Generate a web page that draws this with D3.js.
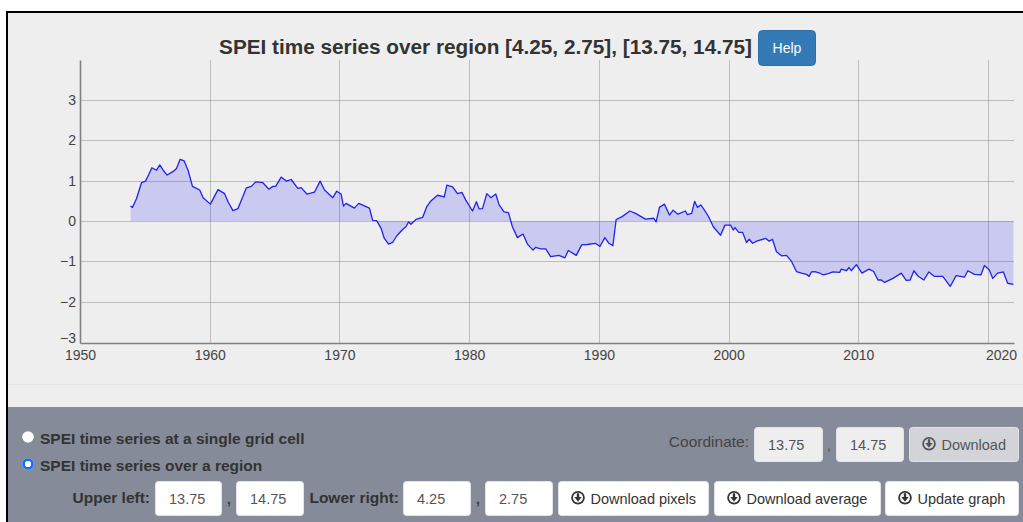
<!DOCTYPE html>
<html><head><meta charset="utf-8">
<script src="https://cdn.jsdelivr.net/npm/d3@7/dist/d3.min.js"></script>
<style>
html,body{margin:0;padding:0;background:#fff;overflow:hidden}
svg{display:block;font-family:"Liberation Sans",Arial,sans-serif}
</style></head><body><div id="c"></div>
<script>
const titleText = "SPEI time series over region [4.25, 2.75], [13.75, 14.75]";
const xTicks = [1950,1960,1970,1980,1990,2000,2010,2020];
const yTicks = [-3,-2,-1,0,1,2,3];
const years = [1953.90,1954.05,1954.36,1954.74,1955.05,1955.31,1955.54,1955.90,1956.15,1956.41,1956.72,1957.18,1957.44,1957.72,1958.03,1958.33,1958.67,1959.23,1959.49,1960.05,1960.64,1961.15,1961.41,1961.79,1962.18,1962.82,1963.21,1963.54,1964.10,1964.56,1964.87,1965.08,1965.51,1965.90,1966.28,1966.79,1967.05,1967.49,1968.08,1968.51,1968.85,1969.49,1969.79,1970.13,1970.31,1970.51,1971.15,1971.49,1972.31,1972.56,1972.87,1973.21,1973.46,1973.79,1974.10,1974.41,1974.87,1975.13,1975.33,1975.51,1975.90,1976.41,1976.72,1977.05,1977.56,1978.08,1978.28,1978.72,1979.10,1979.44,1979.74,1980.26,1980.56,1980.77,1981.03,1981.36,1981.67,1982.05,1982.31,1982.69,1983.03,1983.33,1983.72,1984.15,1984.49,1984.92,1985.13,1985.51,1985.90,1986.28,1986.92,1987.38,1987.64,1988.26,1988.67,1989.10,1989.74,1990.08,1990.46,1990.77,1991.08,1991.33,1991.79,1992.38,1992.82,1993.59,1994.23,1994.41,1994.67,1995.05,1995.44,1995.72,1996.10,1996.67,1996.82,1997.15,1997.38,1997.59,1997.85,1998.10,1998.44,1998.82,1999.38,1999.72,2000.15,2000.36,2000.49,2000.79,2001.08,2001.38,2001.59,2001.85,2002.21,2002.87,2003.13,2003.38,2003.69,2004.08,2004.46,2004.85,2005.23,2005.62,2006.00,2006.21,2006.38,2006.64,2006.97,2007.28,2007.67,2008.05,2008.56,2008.69,2009.08,2009.28,2009.46,2009.85,2010.28,2010.82,2011.18,2011.51,2011.77,2012.03,2012.67,2013.31,2013.69,2014.00,2014.28,2014.59,2015.05,2015.44,2015.87,2016.51,2017.08,2017.54,2018.18,2018.44,2018.95,2019.46,2019.72,2020.10,2020.36,2020.74,2021.18,2021.51,2021.95];
const spei = [.37,.34,.56,.95,.99,1.16,1.32,1.26,1.39,1.26,1.14,1.23,1.30,1.53,1.49,1.26,.86,.77,.58,.42,.78,.68,.48,.26,.31,.82,.86,.97,.95,.79,.86,.86,1.09,.99,1.03,.81,.83,.67,.72,.99,.77,.58,.74,.67,.37,.44,.32,.44,.32,.02,.01,-.18,-.43,-.57,-.53,-.37,-.21,-.14,-.02,-.08,.04,.09,.35,.50,.64,.60,.89,.85,.68,.71,.52,.25,.48,.30,.31,.68,.58,.67,.40,.23,.21,-.14,-.41,-.32,-.57,-.72,-.65,-.69,-.69,-.88,-.85,-.91,-.73,-.85,-.59,-.58,-.55,-.63,-.41,-.55,-.61,.04,.11,.25,.19,.05,.07,-.02,.34,.42,.15,.27,.17,.25,.16,.19,.49,.34,.40,.29,.12,-.14,-.35,-.10,-.10,-.22,-.16,-.28,-.28,-.53,-.45,-.55,-.49,-.43,-.50,-.45,-.76,-.86,-.85,-1.00,-1.25,-1.29,-1.32,-1.37,-1.26,-1.25,-1.28,-1.33,-1.30,-1.26,-1.27,-1.19,-1.23,-1.15,-1.23,-1.08,-1.29,-1.19,-1.25,-1.46,-1.46,-1.52,-1.42,-1.29,-1.47,-1.46,-1.23,-1.36,-1.46,-1.26,-1.37,-1.37,-1.62,-1.35,-1.39,-1.23,-1.32,-1.33,-1.10,-1.21,-1.42,-1.29,-1.26,-1.54,-1.57];
const radioLabels = ["SPEI time series at a single grid cell","SPEI time series over a region"];
const coordValues = ["13.75","14.75"];
const regionValues = ["13.75","14.75","4.25","2.75"];
const buttonLabels = ["Download pixels","Download average","Update graph"];

const W=1023,H=522;
const svg=d3.select("#c").append("svg").attr("width",W).attr("height",H);
const x=d3.scaleLinear().domain([1950,2022]).range([80,1014]);
const y=d3.scaleLinear().domain([-3.02,3.99]).range([343,60]);

// page
svg.append("rect").attr("width",W).attr("height",H).attr("fill","#fff");
svg.append("rect").attr("x",7).attr("y",12).attr("width",W).attr("height",H).attr("fill","#eeeeee");
svg.append("rect").attr("x",6).attr("y",11).attr("width",2).attr("height",H).attr("fill","#000");
svg.append("rect").attr("x",6).attr("y",11).attr("width",W).attr("height",2).attr("fill","#000");
svg.append("rect").attr("x",8).attr("y",384).attr("width",W).attr("height",1).attr("fill","#e4e4e4");
svg.append("rect").attr("x",8).attr("y",407).attr("width",W).attr("height",H).attr("fill","#858b98");

// title
svg.append("text").attr("x",485.5).attr("y",53.5).attr("text-anchor","middle")
  .attr("font-size",20.75).attr("font-weight","bold").attr("fill","#333").text(titleText);
svg.append("rect").attr("x",758.5).attr("y",30.5).attr("width",57).attr("height",35).attr("rx",4)
  .attr("fill","#337ab7").attr("stroke","#2e6da4");
svg.append("text").attr("x",787).attr("y",53).attr("text-anchor","middle").attr("font-size",14).attr("fill","#fff").text("Help");

// grid
const grid=svg.append("g").attr("stroke","#808080").attr("stroke-opacity",.45).attr("stroke-width",1);
grid.selectAll(".v").data(xTicks.slice(1)).join("line")
  .attr("x1",d=>Math.round(x(d))+.5).attr("x2",d=>Math.round(x(d))+.5).attr("y1",60).attr("y2",343);
grid.selectAll(".h").data(yTicks.slice(1)).join("line")
  .attr("x1",80).attr("x2",1014).attr("y1",d=>Math.round(y(d))+.5).attr("y2",d=>Math.round(y(d))+.5);

// series
const pts=years.map((t,i)=>({t,v:spei[i]}));
svg.append("path").datum(pts).attr("fill","#0000ff").attr("fill-opacity",.15)
  .attr("d",d3.area().x(d=>x(d.t)).y0(y(0)).y1(d=>y(d.v)));
svg.append("path").datum(pts).attr("fill","none").attr("stroke","#2222ee").attr("stroke-width",1.3).attr("stroke-linejoin","round")
  .attr("d",d3.line().x(d=>x(d.t)).y(d=>y(d.v)));

// axes
const xa=svg.append("g").attr("transform","translate(0,343)")
  .call(d3.axisBottom(x).tickValues(xTicks).tickFormat(d3.format("d")).tickSize(0).tickPadding(7));
const ya=svg.append("g").attr("transform","translate(80,0)")
  .call(d3.axisLeft(y).tickValues(yTicks).tickFormat(d3.format("d")).tickSize(0).tickPadding(4));
[xa,ya].forEach(a=>{a.selectAll("text").attr("font-size",14).attr("font-family","Liberation Sans, Arial, sans-serif").attr("fill","#444");
  a.select(".domain").attr("stroke","#808080").attr("stroke-width",1.6);});
xa.selectAll("text").filter(d=>d===2020).attr("dx",13);
ya.selectAll("text").filter(d=>d===-3).attr("dy","0em");

// radios
radioLabels.forEach((t,i)=>{
  const cy=[437,464][i];
  svg.append("circle").attr("cx",28).attr("cy",cy).attr("r",5.8).attr("fill","#fff");
  if(i){
    svg.append("circle").attr("cx",28).attr("cy",cy).attr("r",4.4).attr("fill","none").attr("stroke","#0d6efd").attr("stroke-width",2.8);
    svg.append("circle").attr("cx",28).attr("cy",cy).attr("r",3).attr("fill","#fff");
  }
  svg.append("text").attr("x",40).attr("y",cy+7).attr("font-size",15.5).attr("font-weight","bold").attr("fill","#333").text(t);
});

function field(xp,w,yp,label,bg,fg){
  svg.append("rect").attr("x",xp+.5).attr("y",yp+.5).attr("width",w-1).attr("height",34).attr("rx",3).attr("fill",bg).attr("stroke","#e2e4e8");
  svg.append("text").attr("x",xp+14).attr("y",yp+23).attr("font-size",14.5).attr("fill",fg).text(label);
}
function lab(xp,yp,t,w,fg,anchor){
  svg.append("text").attr("x",xp).attr("y",yp).attr("text-anchor",anchor||"start").attr("font-size",15.5).attr("font-weight",w).attr("fill",fg).text(t);
}
function icon(cx,cy,col,bg){
  const g=svg.append("g").attr("transform",`translate(${cx},${cy})`);
  g.append("circle").attr("r",6.8).attr("fill",col);
  g.append("circle").attr("r",5).attr("fill",bg);
  g.append("path").attr("d","M-1.2,-4.4L1.2,-4.4L1.2,-.6L3.7,-.6L0,4L-3.7,-.6L-1.2,-.6Z").attr("fill",col);
}
function button(xp,w,yp,label,bg,fg){
  svg.append("rect").attr("x",xp+.5).attr("y",yp+.5).attr("width",w-1).attr("height",34).attr("rx",3).attr("fill",bg).attr("stroke","#e2e4e8");
  icon(xp+20,yp+16.7,fg,bg);
  svg.append("text").attr("x",xp+32.5).attr("y",yp+23).attr("font-size",14.5).attr("fill",fg).text(label);
}

// coordinate row
lab(749,447,"Coordinate:","normal","#444","end");
field(754,69,427,coordValues[0],"#eeeeee","#555");
lab(829,450,",","normal","#555","middle");
field(836,68,427,coordValues[1],"#eeeeee","#555");
button(909,110,427,"Download","#d2d4da","#555");

// region row
lab(150,503,"Upper left:","bold","#333","end");
field(155,67,481,regionValues[0],"#fff","#555");
lab(229,504,",","bold","#444","middle");
field(236,68,481,regionValues[1],"#fff","#555");
lab(399,503,"Lower right:","bold","#333","end");
field(403,68,481,regionValues[2],"#fff","#555");
lab(478,504,",","bold","#444","middle");
field(485,68,481,regionValues[3],"#fff","#555");
button(558,151,481,buttonLabels[0],"#fff","#333");
button(714,167,481,buttonLabels[1],"#fff","#333");
button(885,134,481,buttonLabels[2],"#fff","#333");
</script></body></html>
